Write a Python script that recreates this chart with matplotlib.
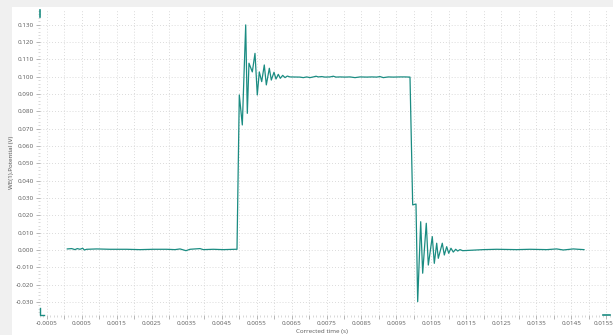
import matplotlib
matplotlib.use("Agg")
import matplotlib.pyplot as plt
from matplotlib.patches import Rectangle
from matplotlib.ticker import FixedLocator, MultipleLocator
from matplotlib.transforms import ScaledTranslation

# signal vertices (time in s, potential in V)
t_base = [0.000081, 0.000207, 0.000301, 0.000367, 0.000444, 0.000521, 0.000568,
          0.000636, 0.000922, 0.001303, 0.001781, 0.002162, 0.002542, 0.002926,
          0.003163, 0.003307, 0.003478, 0.003593, 0.003879, 0.003974, 0.004260,
          0.004546, 0.004881, 0.004938]
v_base = [0.0006, 0.0008, 0.0002, 0.0008, 0.0004, 0.0010, 0.0000,
          0.0004, 0.0006, 0.0004, 0.0004, 0.0002, 0.0004, 0.0004,
          0.0002, 0.0006, -0.0004, 0.0004, 0.0008, 0.0002, 0.0004,
          0.0002, 0.0004, 0.0004]

t_rise = [0.005004, 0.005090, 0.005187, 0.005233, 0.005281, 0.005376, 0.005453,
          0.005519, 0.005576, 0.005645, 0.005719, 0.005777, 0.005863, 0.005920,
          0.005997, 0.006054, 0.006120, 0.006177, 0.006246, 0.006312, 0.006378,
          0.006455]
v_rise = [0.0894, 0.0721, 0.1298, 0.0788, 0.1077, 0.1027, 0.1134,
          0.0894, 0.1027, 0.0971, 0.1067, 0.0952, 0.1048, 0.0980,
          0.1025, 0.0986, 0.1013, 0.0990, 0.1007, 0.0994, 0.1003,
          0.0998]

t_top = [0.006741, 0.006836, 0.006932, 0.007027, 0.007122, 0.007199, 0.007265,
         0.007362, 0.007456, 0.007599, 0.007694, 0.007771, 0.007886, 0.008029,
         0.008172, 0.008315, 0.008458, 0.008650, 0.008793, 0.008936, 0.009031,
         0.009125, 0.009268, 0.009411, 0.009603, 0.009746, 0.009889]
v_top = [0.0997, 0.0994, 0.0998, 0.0994, 0.0998, 0.1002, 0.0998,
         0.1000, 0.0997, 0.0998, 0.1002, 0.0997, 0.0998, 0.0997,
         0.0998, 0.0994, 0.0998, 0.0997, 0.0998, 0.0997, 0.1000,
         0.0994, 0.0998, 0.0997, 0.0998, 0.0998, 0.0997]

t_fall = [0.009966, 0.010061, 0.010109, 0.010195, 0.010252, 0.010355, 0.010413,
          0.010527, 0.010585, 0.010653, 0.010699, 0.010813, 0.010871, 0.010939,
          0.010997, 0.011062, 0.011128, 0.011197, 0.011254, 0.011320, 0.011397]
v_fall = [0.0260, 0.0265, -0.0298, 0.0163, -0.0134, 0.0154, -0.0087,
          0.0077, -0.0077, 0.0039, -0.0048, 0.0039, -0.0029, 0.0019,
          -0.0019, 0.0010, -0.0012, 0.0004, -0.0006, 0.0002, -0.0004]

t_tail = [0.011987, 0.012370, 0.012943, 0.013323, 0.013801, 0.014087, 0.014276,
          0.014563, 0.014706, 0.014869]
v_tail = [0.0002, 0.0004, 0.0002, 0.0004, 0.0002, 0.0006, 0.0000,
          0.0006, 0.0004, 0.0002]

x_ticks = [-0.0005, 0.0000, 0.0005, 0.0010, 0.0015, 0.0020, 0.0025, 0.0030, 0.0035,
           0.0040, 0.0045, 0.0050, 0.0055, 0.0060, 0.0065, 0.0070, 0.0075, 0.0080,
           0.0085, 0.0090, 0.0095, 0.0100, 0.0105, 0.0110, 0.0115, 0.0120, 0.0125,
           0.0130, 0.0135, 0.0140, 0.0145, 0.0150, 0.0155]
x_labels = ["-0.0005", "", "0.0005", "", "0.0015", "", "0.0025", "", "0.0035",
            "", "0.0045", "", "0.0055", "", "0.0065", "", "0.0075", "",
            "0.0085", "", "0.0095", "", "0.0105", "", "0.0115", "", "0.0125",
            "", "0.0135", "", "0.0145", "", "0.0155"]
y_ticks = [-0.030, -0.020, -0.010, 0.000, 0.010, 0.020, 0.030, 0.040, 0.050,
           0.060, 0.070, 0.080, 0.090, 0.100, 0.110, 0.120, 0.130]
y_labels = ["-0.030", "-0.020", "-0.010", "0.000", "0.010", "0.020", "0.030", "0.040",
            "0.050", "0.060", "0.070", "0.080", "0.090", "0.100", "0.110", "0.120",
            "0.130"]

t = t_base + t_rise + t_top + t_fall + t_tail
v = v_base + v_rise + v_top + v_fall + v_tail

plt.rcParams['font.family'] = ['Open Sans', 'DejaVu Sans']
teal = '#1b8c82'
grey_txt = '#5a5a5a'

fig = plt.figure(figsize=(6.13, 3.35), dpi=100, facecolor='#f0f0f0')
fig.patches.append(Rectangle((12 / 613, 0), 1, 1 - 7 / 335, transform=fig.transFigure,
                             facecolor='white', edgecolor='none', zorder=-5))
ax = fig.add_axes([40 / 613, 1 - 315 / 335, 570 / 613, 305 / 335])
ax.set_zorder(2)
ax.set_facecolor('none')

ax.plot(t, v, color=teal, linewidth=0.9)

ax.set_xlim(-0.0007, 0.015613)
ax.set_ylim(-0.0375, 0.1384)

ax.xaxis.set_major_locator(FixedLocator(x_ticks))
ax.set_xticklabels(x_labels)
ax.xaxis.set_minor_locator(MultipleLocator(0.0001))
ax.yaxis.set_major_locator(FixedLocator(y_ticks))
ax.set_yticklabels(y_labels)
ax.yaxis.set_minor_locator(MultipleLocator(0.002))

ax.tick_params(axis='both', which='major', labelsize=4.5, colors='#999999',
               labelcolor=grey_txt, length=3, width=0.5, pad=1.5)
ax.tick_params(axis='both', which='minor', colors='#bbbbbb', length=1.5, width=0.4)
ax.grid(True, which='major', linestyle=(0, (1, 2.5)), color='#cfcfcf', linewidth=0.6)

# keep the last time label inside the picture
last = ax.xaxis.get_major_ticks()[-1].label1
last.set_transform(last.get_transform() + ScaledTranslation(-3 / 100, 0, fig.dpi_scale_trans))

for s in ax.spines.values():
    s.set_visible(False)

ax.set_xlabel("Corrected time (s)", fontsize=4.5, color=grey_txt)
ax.set_ylabel("WE(1).Potential (V)", fontsize=4.5, color=grey_txt)
ax.xaxis.set_label_coords(0.495, -0.045)
ax.yaxis.set_label_coords(-0.046, 0.5)

# small range markers at the axis corners
ax.plot([0, 0], [1, 1 - 7 / 305], transform=ax.transAxes, color=teal, lw=1.2, clip_on=False)
ax.plot([0, 0, 4 / 570], [7 / 305, 0, 0], transform=ax.transAxes, color=teal, lw=1.0,
        clip_on=False)
ax.plot([1 - 7 / 570, 1], [0, 0], transform=ax.transAxes, color=teal, lw=1.2, clip_on=False)

fig.savefig("out.png", dpi=100, facecolor=fig.get_facecolor())
